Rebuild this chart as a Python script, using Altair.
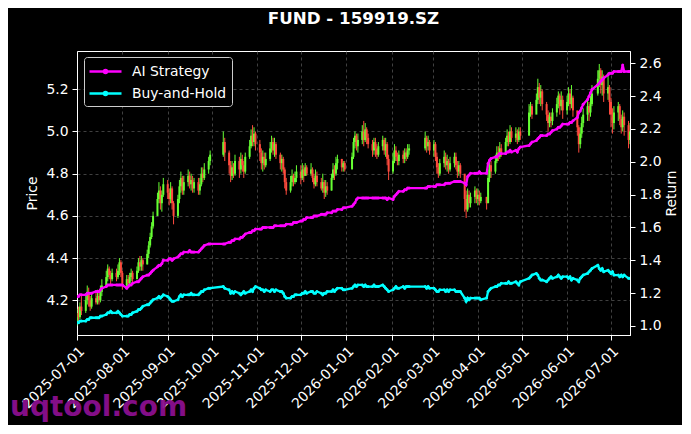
import altair as alt
import pandas as pd

# ---------------- calendar ----------------
holidays = ["2025-10-01", "2025-10-02", "2025-10-03", "2025-10-06", "2025-10-07", "2025-10-08",
            "2026-01-01", "2026-01-02", "2026-02-16", "2026-02-17", "2026-02-18", "2026-02-19",
            "2026-02-20", "2026-02-23", "2026-04-06", "2026-05-01", "2026-05-04", "2026-05-05",
            "2026-06-19"]
dates = [d.strftime("%Y-%m-%d") for d in pd.bdate_range("2025-07-01", "2026-07-14")
         if d.strftime("%Y-%m-%d") not in holidays]

# ---------------- price candles (per month) ----------------
first_open = 4.10
close_jul25 = [4.14,4.12,4.17,4.15,4.20,4.24,4.20,4.17,4.21,4.19,4.22,4.20,4.24,4.27,4.31,4.35,4.32,4.30,4.33,4.31,4.34,4.38,4.33]
high_jul25 = [4.16,4.17,4.19,4.22,4.23,4.27,4.26,4.22,4.23,4.24,4.25,4.24,4.27,4.30,4.34,4.37,4.36,4.34,4.35,4.35,4.37,4.40,4.39]
low_jul25 = [4.08,4.10,4.11,4.13,4.14,4.18,4.17,4.15,4.16,4.18,4.18,4.18,4.19,4.22,4.26,4.29,4.30,4.27,4.29,4.29,4.30,4.32,4.31]
close_aug = [4.27,4.30,4.28,4.31,4.33,4.30,4.34,4.38,4.36,4.39,4.37,4.42,4.46,4.50,4.55,4.60,4.68,4.72,4.66,4.70,4.75]
high_aug = [4.34,4.32,4.32,4.33,4.35,4.34,4.36,4.40,4.41,4.41,4.40,4.44,4.48,4.52,4.57,4.62,4.71,4.76,4.74,4.72,4.78]
low_aug = [4.25,4.26,4.26,4.27,4.29,4.28,4.30,4.33,4.34,4.34,4.34,4.37,4.40,4.45,4.49,4.54,4.60,4.66,4.63,4.62,4.69]
close_sep = [4.71,4.68,4.73,4.66,4.60,4.68,4.74,4.78,4.72,4.76,4.79,4.75,4.77,4.73,4.76,4.72,4.75,4.80,4.78,4.82,4.86,4.89]
high_sep = [4.77,4.73,4.76,4.74,4.67,4.70,4.77,4.81,4.79,4.79,4.82,4.81,4.80,4.79,4.78,4.78,4.78,4.83,4.83,4.85,4.88,4.91]
low_sep = [4.68,4.65,4.66,4.63,4.56,4.59,4.66,4.71,4.70,4.70,4.74,4.73,4.72,4.71,4.71,4.70,4.70,4.74,4.76,4.77,4.80,4.84]
close_oct = [4.95,4.90,4.84,4.79,4.83,4.80,4.86,4.82,4.87,4.84,4.81,4.88,4.93,4.98,4.95,4.99,4.94]
high_oct = [5.00,4.97,4.91,4.86,4.86,4.85,4.89,4.88,4.90,4.89,4.86,4.90,4.96,5.01,5.03,5.02,5.00]
low_oct = [4.88,4.86,4.80,4.76,4.77,4.78,4.79,4.78,4.80,4.81,4.78,4.80,4.87,4.92,4.93,4.93,4.91]
close_nov = [4.90,4.85,4.88,4.84,4.87,4.92,4.95,4.91,4.94,4.89,4.85,4.87,4.82,4.76,4.72,4.76,4.79,4.76,4.78,4.81]
high_nov = [4.96,4.92,4.91,4.90,4.90,4.95,4.98,4.97,4.97,4.95,4.90,4.89,4.88,4.83,4.78,4.79,4.82,4.80,4.81,4.84]
low_nov = [4.86,4.82,4.81,4.82,4.83,4.86,4.90,4.89,4.88,4.87,4.82,4.81,4.80,4.73,4.70,4.71,4.74,4.74,4.75,4.76]
close_dec = [4.78,4.82,4.79,4.83,4.80,4.82,4.78,4.75,4.79,4.76,4.73,4.76,4.71,4.74,4.72,4.78,4.82,4.80,4.85,4.87,4.83,4.85,4.82]
high_dec = [4.84,4.85,4.84,4.85,4.84,4.85,4.83,4.80,4.82,4.81,4.78,4.80,4.77,4.77,4.76,4.80,4.85,4.84,4.88,4.89,4.87,4.86,4.86]
low_dec = [4.75,4.77,4.76,4.79,4.79,4.79,4.76,4.73,4.74,4.74,4.72,4.71,4.68,4.69,4.70,4.72,4.77,4.77,4.79,4.82,4.81,4.81,4.81]
close_jan = [4.88,4.95,4.98,4.93,4.96,5.00,4.96,5.01,4.97,4.94,4.91,4.95,4.92,4.89,4.93,4.96,4.91,4.94,4.87,4.81]
high_jan = [4.90,4.97,5.00,4.99,4.99,5.03,5.05,5.04,5.02,4.99,4.96,4.97,4.97,4.94,4.95,4.98,4.97,4.97,4.95,4.89]
low_jan = [4.84,4.87,4.92,4.91,4.90,4.94,4.93,4.95,4.94,4.92,4.88,4.89,4.88,4.87,4.88,4.91,4.89,4.88,4.84,4.77]
close_feb = [4.86,4.91,4.88,4.86,4.89,4.87,4.90,4.88,4.91,4.92,4.97,4.93,4.95,4.91]
high_feb = [4.90,4.94,4.93,4.90,4.91,4.91,4.92,4.92,4.94,4.94,5.00,4.98,4.98,4.96]
low_feb = [4.80,4.85,4.86,4.84,4.84,4.85,4.85,4.86,4.87,4.89,4.91,4.90,4.91,4.89]
close_mar = [4.94,4.88,4.83,4.80,4.85,4.88,4.84,4.86,4.82,4.85,4.88,4.84,4.81,4.84,4.80,4.68,4.63,4.70,4.66,4.69,4.72,4.68]
high_mar = [4.96,4.95,4.90,4.85,4.87,4.91,4.90,4.89,4.87,4.88,4.90,4.90,4.86,4.86,4.85,4.75,4.72,4.73,4.72,4.71,4.74,4.73]
low_mar = [4.88,4.86,4.80,4.78,4.79,4.83,4.82,4.81,4.80,4.81,4.83,4.82,4.78,4.79,4.78,4.62,4.59,4.62,4.64,4.64,4.66,4.66]
close_apr = [4.70,4.67,4.69,4.66,4.78,4.84,4.81,4.86,4.90,4.88,4.92,4.90,4.95,4.98,4.95,5.00,4.97,4.99,4.96,5.00,4.98]
high_apr = [4.73,4.72,4.71,4.69,4.82,4.86,4.86,4.89,4.93,4.93,4.95,4.94,4.97,5.01,5.00,5.03,5.02,5.02,5.01,5.02,5.02]
low_apr = [4.65,4.65,4.66,4.63,4.70,4.76,4.78,4.80,4.85,4.86,4.87,4.88,4.89,4.93,4.93,4.94,4.95,4.95,4.94,4.95,4.96]
close_may = [5.09,5.12,5.08,5.15,5.21,5.16,5.19,5.13,5.08,5.04,5.07,5.05,5.09,5.13,5.17,5.12,5.15,5.10]
high_may = [5.13,5.14,5.13,5.18,5.25,5.23,5.22,5.20,5.14,5.10,5.09,5.09,5.11,5.16,5.19,5.18,5.19,5.17]
low_may = [5.05,5.07,5.06,5.10,5.13,5.13,5.12,5.10,5.05,5.00,5.02,5.02,5.03,5.07,5.11,5.08,5.10,5.06]
close_jun = [5.14,5.18,5.13,5.16,5.10,5.02,4.94,4.99,5.04,5.08,5.12,5.09,5.13,5.18,5.25,5.29,5.22,5.26,5.18,5.21,5.14]
high_jun = [5.17,5.21,5.20,5.22,5.17,5.08,5.03,5.02,5.07,5.11,5.15,5.14,5.17,5.22,5.29,5.32,5.30,5.29,5.27,5.28,5.22]
low_jun = [5.08,5.12,5.10,5.11,5.07,4.98,4.90,4.92,4.97,5.02,5.05,5.05,5.07,5.12,5.17,5.21,5.18,5.17,5.14,5.15,5.08]
close_jul26 = [5.08,5.04,5.09,5.12,5.06,5.02,5.07,5.03,4.96,5.00]
high_jul26 = [5.16,5.11,5.12,5.14,5.13,5.08,5.10,5.09,5.05,5.04]
low_jul26 = [5.02,4.99,5.01,5.05,5.03,4.99,5.00,4.98,4.92,4.94]

# ---------------- cumulative returns (per month) ----------------
ai_jul25 = [1.18,1.18,1.19,1.19,1.19,1.20,1.20,1.20,1.20,1.21,1.21,1.21,1.22,1.23,1.24,1.25,1.25,1.25,1.25,1.25,1.25,1.25,1.25]
ai_aug = [1.25,1.23,1.24,1.25,1.25,1.26,1.27,1.27,1.28,1.29,1.30,1.31,1.31,1.32,1.33,1.34,1.36,1.37,1.37,1.38,1.40]
ai_sep = [1.40,1.41,1.41,1.40,1.41,1.42,1.43,1.44,1.44,1.45,1.45,1.46,1.45,1.45,1.45,1.45,1.46,1.47,1.48,1.49,1.50,1.50]
ai_oct = [1.50,1.50,1.51,1.51,1.52,1.52,1.53,1.53,1.54,1.54,1.55,1.56,1.57,1.57,1.58,1.58,1.59]
ai_nov = [1.59,1.59,1.60,1.60,1.60,1.60,1.60,1.60,1.61,1.61,1.61,1.61,1.61,1.61,1.62,1.62,1.62,1.63,1.63,1.63]
ai_dec = [1.64,1.64,1.65,1.65,1.66,1.66,1.66,1.67,1.67,1.67,1.68,1.68,1.68,1.68,1.69,1.69,1.70,1.70,1.70,1.71,1.71,1.72,1.72]
ai_jan = [1.73,1.74,1.75,1.77,1.78,1.78,1.78,1.78,1.78,1.78,1.78,1.78,1.78,1.78,1.78,1.78,1.78,1.78,1.77,1.78]
ai_feb = [1.77,1.79,1.80,1.81,1.82,1.82,1.83,1.83,1.84,1.84,1.84,1.84,1.85,1.85]
ai_mar = [1.85,1.85,1.86,1.86,1.86,1.86,1.87,1.87,1.87,1.87,1.88,1.88,1.88,1.88,1.88,1.87,1.86,1.91,1.92,1.93,1.93,1.93]
ai_apr = [1.93,1.94,1.93,1.93,1.99,2.01,2.02,2.03,2.03,2.04,2.05,2.05,2.05,2.06,2.06,2.07,2.06,2.07,2.06,2.08,2.09]
ai_may = [2.10,2.11,2.12,2.13,2.14,2.15,2.16,2.16,2.16,2.17,2.17,2.18,2.19,2.20,2.21,2.21,2.22,2.23]
ai_jun = [2.23,2.23,2.24,2.24,2.25,2.27,2.30,2.31,2.33,2.35,2.38,2.40,2.42,2.44,2.47,2.48,2.49,2.50,2.51,2.53,2.54]
ai_jul26 = [2.54,2.54,2.55,2.55,2.55,2.55,2.59,2.55,2.55,2.55]

bh_jul25 = [1.02,1.02,1.03,1.03,1.03,1.04,1.04,1.05,1.05,1.05,1.05,1.05,1.06,1.06,1.07,1.08,1.08,1.09,1.08,1.08,1.09,1.08,1.07]
bh_aug = [1.06,1.06,1.06,1.07,1.07,1.08,1.09,1.10,1.10,1.11,1.12,1.13,1.13,1.14,1.15,1.16,1.17,1.18,1.17,1.18,1.19]
bh_sep = [1.18,1.17,1.16,1.15,1.15,1.16,1.18,1.19,1.18,1.19,1.19,1.19,1.20,1.19,1.19,1.19,1.20,1.21,1.21,1.22,1.23,1.23]
bh_oct = [1.24,1.23,1.22,1.20,1.21,1.20,1.21,1.20,1.19,1.20,1.21,1.20,1.21,1.22,1.21,1.23,1.24]
bh_nov = [1.23,1.22,1.22,1.21,1.22,1.21,1.22,1.22,1.21,1.22,1.21,1.21,1.20,1.18,1.17,1.17,1.18,1.18,1.19,1.19]
bh_dec = [1.19,1.20,1.20,1.21,1.20,1.21,1.21,1.20,1.20,1.21,1.20,1.19,1.20,1.20,1.21,1.21,1.22,1.21,1.22,1.23,1.23,1.22,1.22]
bh_jan = [1.23,1.24,1.25,1.24,1.25,1.25,1.24,1.25,1.24,1.24,1.24,1.25,1.24,1.24,1.24,1.25,1.24,1.23,1.22,1.21]
bh_feb = [1.22,1.23,1.24,1.23,1.23,1.24,1.23,1.24,1.24,1.24,1.24,1.23,1.24,1.23]
bh_mar = [1.23,1.22,1.21,1.21,1.22,1.22,1.21,1.22,1.21,1.22,1.22,1.21,1.21,1.21,1.21,1.17,1.15,1.17,1.16,1.17,1.17,1.17]
bh_apr = [1.17,1.17,1.16,1.17,1.21,1.22,1.23,1.24,1.24,1.25,1.25,1.26,1.26,1.26,1.27,1.26,1.26,1.27,1.26,1.25,1.27]
bh_may = [1.29,1.30,1.31,1.32,1.31,1.29,1.28,1.28,1.27,1.28,1.29,1.30,1.29,1.30,1.31,1.30,1.29,1.30]
bh_jun = [1.30,1.29,1.30,1.28,1.29,1.28,1.27,1.29,1.30,1.31,1.32,1.33,1.34,1.35,1.37,1.35,1.34,1.35,1.33,1.34,1.33]
bh_jul26 = [1.32,1.33,1.31,1.31,1.30,1.31,1.30,1.31,1.29,1.29]

series_names = ["AI Strategy", "Buy-and-Hold"]
series_colors = ["#ff00ff", "#00ffff"]
price_ticks = [4.2, 4.4, 4.6, 4.8, 5.0, 5.2]
return_ticks = [1.0, 1.2, 1.4, 1.6, 1.8, 2.0, 2.2, 2.4, 2.6]
tick_months = [(2025, m) for m in range(7, 13)] + [(2026, m) for m in range(1, 8)]
title_text = "FUND - 159919.SZ"
watermark = "uqtool.com"

closes = (close_jul25 + close_aug + close_sep + close_oct + close_nov + close_dec + close_jan
          + close_feb + close_mar + close_apr + close_may + close_jun + close_jul26)
highs = (high_jul25 + high_aug + high_sep + high_oct + high_nov + high_dec + high_jan
         + high_feb + high_mar + high_apr + high_may + high_jun + high_jul26)
lows = (low_jul25 + low_aug + low_sep + low_oct + low_nov + low_dec + low_jan
        + low_feb + low_mar + low_apr + low_may + low_jun + low_jul26)
opens = [first_open] + closes[:-1]
ai = (ai_jul25 + ai_aug + ai_sep + ai_oct + ai_nov + ai_dec + ai_jan + ai_feb + ai_mar
      + ai_apr + ai_may + ai_jun + ai_jul26)
bh = (bh_jul25 + bh_aug + bh_sep + bh_oct + bh_nov + bh_dec + bh_jan + bh_feb + bh_mar
      + bh_apr + bh_may + bh_jun + bh_jul26)

n = len(dates)
price_df = pd.DataFrame({"date": dates, "open": opens, "high": highs, "low": lows, "close": closes})
ret_df = pd.DataFrame({"date": dates + dates,
                       "series": [series_names[0]] * n + [series_names[1]] * n,
                       "value": ai + bh})

FONT = "DejaVu Sans"
UP, DOWN = "#66ff33", "#ff4b3e"

x_scale = alt.Scale(type="utc", domain=[alt.DateTime(year=2025, month=7, date=1, utc=True),
                                        alt.DateTime(year=2026, month=7, date=14, utc=True)])
x_axis = alt.Axis(values=[alt.DateTime(year=y, month=m, date=1, utc=True) for y, m in tick_months],
                  labelExpr="utcFormat(datum.value, '%Y-%m-%d')", labelAngle=315, labelAlign="right",
                  labelBaseline="top", labelOverlap=False, labelFlush=False, labelBound=False,
                  title=None, grid=True)
price_scale = alt.Scale(domain=[4.0355, 5.3815], nice=False, zero=False)
price_axis = alt.Axis(title="Price", values=price_ticks, format=".1f", grid=True, titlePadding=6)
ret_scale = alt.Scale(domain=[0.945, 2.675], nice=False, zero=False)
ret_axis = alt.Axis(title="Return", orient="right", values=return_ticks, format=".1f", grid=False,
                    titleAngle=270, titleBaseline="top", titlePadding=3)

candle_color = alt.condition("datum.close >= datum.open", alt.value(UP), alt.value(DOWN))
base = alt.Chart(price_df)
wick = base.mark_rule(strokeWidth=1, clip=True).encode(
    x=alt.X("date:T", scale=x_scale, axis=x_axis),
    y=alt.Y("low:Q", scale=price_scale, axis=price_axis),
    y2="high:Q",
    color=candle_color,
)
body = base.mark_rule(strokeWidth=2, clip=True).encode(
    x=alt.X("date:T", scale=x_scale, axis=x_axis),
    y=alt.Y("open:Q", scale=price_scale, axis=price_axis),
    y2="close:Q",
    color=candle_color,
)
candles = alt.layer(wick, body)

legend_symbol = "M-1.125,0L2.875,0M0.675,0a0.2,0.2 0 1,0 0.4,0a0.2,0.2 0 1,0 -0.4,0"
lines = alt.Chart(ret_df).mark_line(
    strokeWidth=2.3, clip=True, point=alt.OverlayMarkDef(filled=True, size=9)
).encode(
    x=alt.X("date:T", scale=x_scale, axis=x_axis),
    y=alt.Y("value:Q", scale=ret_scale, axis=ret_axis),
    color=alt.Color("series:N", scale=alt.Scale(domain=series_names, range=series_colors),
                    legend=alt.Legend(title=None, orient="none", legendX=7, legendY=6,
                                      fillColor="#000000", strokeColor="#cccccc", cornerRadius=3,
                                      padding=5, labelColor="white", labelFont=FONT,
                                      labelFontSize=13.9, symbolType=legend_symbol, symbolSize=256,
                                      symbolStrokeWidth=2.4, symbolOpacity=1, rowPadding=5,
                                      labelOffset=24)),
    detail="series:N",
)

wm = alt.Chart(pd.DataFrame({"t": [watermark]})).mark_text(
    font=FONT, fontSize=28, fontWeight="bold", color="#8b0f8f", align="left",
    baseline="alphabetic", opacity=0.95
).encode(text="t:N", x=alt.value(-67), y=alt.value(365))

chart = alt.layer(candles, lines, wm).resolve_scale(y="independent").properties(
    width=553, height=284,
    title=alt.TitleParams(title_text, color="white", font=FONT, fontSize=16.7, fontWeight="bold",
                          anchor="middle", frame="group", offset=23),
    background="black",
    padding={"left": 69, "top": 43, "right": 52, "bottom": 90},
    autosize=alt.AutoSizeParams(type="none"),
).configure_view(stroke="white", strokeWidth=1).configure_axis(
    domainColor="white", tickColor="white", labelColor="white", titleColor="white",
    labelFont=FONT, titleFont=FONT, labelFontSize=13.9, titleFontSize=13.9,
    titleFontWeight="normal", tickSize=5, labelPadding=4, gridColor="#505050",
    gridDash=[3, 3], gridWidth=0.8, domainWidth=1,
)

chart.save("out.html", embed_options={"renderer": "svg", "actions": False})
